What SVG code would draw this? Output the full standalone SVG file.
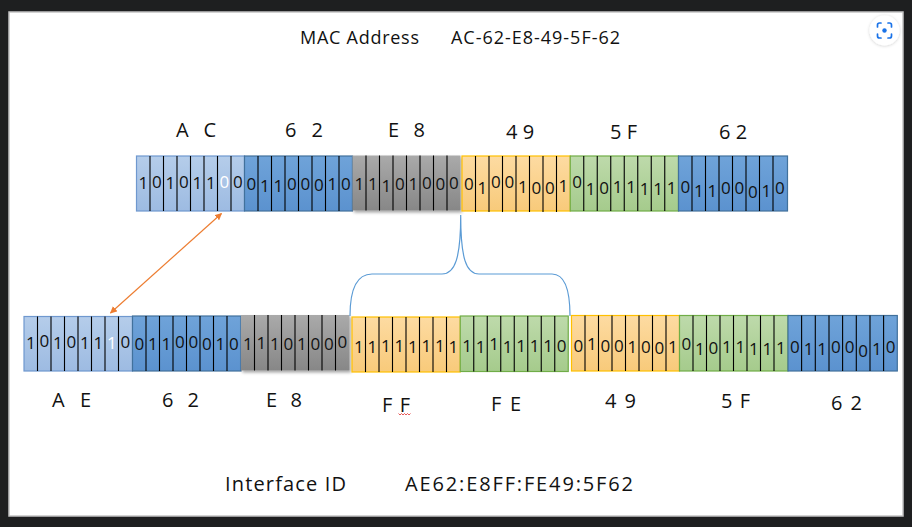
<svg xmlns="http://www.w3.org/2000/svg" width="912" height="527" viewBox="0 0 912 527">
<defs>
<linearGradient id="gLb" x1="0" y1="0" x2="0" y2="1"><stop offset="0" stop-color="#b5cdea"/><stop offset="1" stop-color="#9dbbe2"/></linearGradient>
<linearGradient id="gMb" x1="0" y1="0" x2="0" y2="1"><stop offset="0" stop-color="#6fa3d9"/><stop offset="1" stop-color="#5b92cf"/></linearGradient>
<linearGradient id="gGr" x1="0" y1="0" x2="0" y2="1"><stop offset="0" stop-color="#aaaaaa"/><stop offset="1" stop-color="#878787"/></linearGradient>
<linearGradient id="gOr" x1="0" y1="0" x2="0" y2="1"><stop offset="0" stop-color="#fddba2"/><stop offset="1" stop-color="#f8ca7a"/></linearGradient>
<linearGradient id="gGn" x1="0" y1="0" x2="0" y2="1"><stop offset="0" stop-color="#bedaab"/><stop offset="1" stop-color="#a5cb8c"/></linearGradient>
<filter id="sh" x="-10%" y="-10%" width="130%" height="140%"><feDropShadow dx="1.5" dy="2" stdDeviation="1.5" flood-color="#000" flood-opacity="0.35"/></filter>
<filter id="sh2" x="-50%" y="-50%" width="200%" height="200%"><feDropShadow dx="0" dy="0.5" stdDeviation="1.5" flood-color="#000" flood-opacity="0.2"/></filter>
<marker id="arr" viewBox="0 0 10 10" refX="9" refY="5" markerWidth="7" markerHeight="7" orient="auto-start-reverse" markerUnits="userSpaceOnUse"><path d="M0,0 L10,5 L0,10 Z" fill="#ed7d31"/></marker>
</defs>
<style>
.lb{fill:url(#gLb);stroke:#6f98cf;stroke-width:1.2}
.mb{fill:url(#gMb);stroke:#41719c;stroke-width:1.2}
.gr{fill:url(#gGr);filter:url(#sh)}
.or{fill:url(#gOr);stroke:#ffc000;stroke-width:1.2}
.gn{fill:url(#gGn);stroke:#70ad47;stroke-width:1.2}
.cell{stroke:#000;stroke-width:1.1;fill:none}
.d{font-family:"Open Sans","Noto Sans",sans-serif;font-size:17px;fill:#111;text-anchor:middle}
.w{fill:#fff}
.lab{font-family:"Open Sans","Noto Sans",sans-serif;font-size:20px;fill:#111;white-space:pre}
.ttl{font-family:"Open Sans","Noto Sans",sans-serif;font-size:18px;fill:#111;white-space:pre}
.big{font-family:"Open Sans","Noto Sans",sans-serif;font-size:20px;fill:#111;white-space:pre}
</style>
<rect x="0" y="0" width="912" height="527" fill="#1e1f20"/>
<rect x="9" y="12" width="894" height="504" fill="#ffffff" stroke="#c4c4c4" stroke-width="1.5"/>

<g id="icon">
<circle cx="884.5" cy="30.5" r="15" fill="#ffffff" filter="url(#sh2)"/>
<g fill="none" stroke="#1a73e8" stroke-width="1.7" stroke-linecap="round">
<path d="M877.5,27 V25 a2,2 0 0 1 2,-2 H881"/>
<path d="M888,23 H889.5 a2,2 0 0 1 2,2 V27"/>
<path d="M891.5,34 V36 a2,2 0 0 1 -2,2 H888"/>
<path d="M881,38 H879.5 a2,2 0 0 1 -2,-2 V34"/>
</g>
<circle cx="884.5" cy="30.5" r="2.2" fill="#1a73e8"/>
</g>

<g id="title">
<text class="ttl" x="300" y="44" textLength="119" lengthAdjust="spacing">MAC Address</text>
<text class="ttl" x="451" y="44" textLength="169" lengthAdjust="spacing">AC-62-E8-49-5F-62</text>
</g>

<g id="top-labels">
<text class="lab" x="176" y="137" textLength="40" lengthAdjust="spacing">A  C</text>
<text class="lab" x="285" y="137" textLength="38" lengthAdjust="spacing">6  2</text>
<text class="lab" x="388" y="137" textLength="37" lengthAdjust="spacing">E  8</text>
<text class="lab" x="506" y="139">4 9</text>
<text class="lab" x="610" y="139">5 F</text>
<text class="lab" x="719" y="139">6 2</text>
</g>

<g id="mac-row">
<g id="top-AC">
<rect class="lb" x="136.5" y="156" width="108" height="55"/>
<path class="cell" d="M150,156V211M163.5,156V211M177,156V211M190.5,156V211M204,156V211M217.5,156V211M231,156V211"/>
<text class="d" x="143.25" y="189">1</text><text class="d" x="156.75" y="187.5">0</text><text class="d" x="170.25" y="189">1</text><text class="d" x="183.75" y="187.5">0</text><text class="d" x="197.25" y="189">1</text><text class="d" x="210.75" y="189">1</text><text class="d w" x="224.25" y="187.5">0</text><text class="d" x="237.75" y="187.5">0</text>
</g>
<g id="top-62a">
<rect class="mb" x="244.5" y="156" width="108" height="55"/>
<path class="cell" d="M258,156V211M271.5,156V211M285,156V211M298.5,156V211M312,156V211M325.5,156V211M339,156V211"/>
<text class="d" x="251.25" y="190">0</text><text class="d" x="264.75" y="191.5">1</text><text class="d" x="278.25" y="191.5">1</text><text class="d" x="291.75" y="190">0</text><text class="d" x="305.25" y="189.5">0</text><text class="d" x="318.75" y="191">0</text><text class="d" x="332.25" y="190">1</text><text class="d" x="345.75" y="190">0</text>
</g>
<g id="top-E8">
<rect class="gr" x="352.5" y="155.5" width="108" height="55"/>
<path class="cell" d="M366,155.5V210.5M379.5,155.5V210.5M393,155.5V210.5M406.5,155.5V210.5M420,155.5V210.5M433.5,155.5V210.5M447,155.5V210.5"/>
<text class="d" x="359.25" y="190">1</text><text class="d" x="372.75" y="190">1</text><text class="d" x="386.25" y="191.5">1</text><text class="d" x="399.75" y="190">0</text><text class="d" x="413.25" y="190">1</text><text class="d" x="426.75" y="188.5">0</text><text class="d" x="440.25" y="190">0</text><text class="d" x="453.75" y="188.5">0</text>
</g>
<g id="top-49">
<rect class="or" x="462" y="156" width="108.25" height="55"/>
<path class="cell" d="M475.5,156V212M489,156V212M502.5,156V212M516,156V212M529.5,156V212M543,156V212M556.5,156V212"/>
<text class="d" x="468.75" y="190">0</text><text class="d" x="482.25" y="194">1</text><text class="d" x="495.75" y="188">0</text><text class="d" x="509.25" y="188">0</text><text class="d" x="522.75" y="192.5">1</text><text class="d" x="536.25" y="194">0</text><text class="d" x="549.75" y="194">0</text><text class="d" x="563.25" y="191.5">1</text>
</g>
<g id="top-5F">
<rect class="gn" x="570.25" y="156" width="108.25" height="55"/>
<path class="cell" d="M583.75,156V211M597.25,156V211M610.75,156V211M624.25,156V211M637.75,156V211M651.25,156V211M664.75,156V211"/>
<text class="d" x="577" y="188">0</text><text class="d" x="590.5" y="195">1</text><text class="d" x="604" y="194">0</text><text class="d" x="617.5" y="193">1</text><text class="d" x="631" y="193">1</text><text class="d" x="644.5" y="195">1</text><text class="d" x="658" y="195">1</text><text class="d" x="671.5" y="194">1</text>
</g>
<g id="top-62b">
<rect class="mb" x="678.5" y="156" width="109" height="55"/>
<path class="cell" d="M692,156V211M705.5,156V211M719,156V211M732.5,156V211M746,156V211M759.5,156V211M773,156V211"/>
<text class="d" x="685.25" y="193">0</text><text class="d" x="698.75" y="196.5">1</text><text class="d" x="712.25" y="196.5">1</text><text class="d" x="725.75" y="194">0</text><text class="d" x="739.25" y="194">0</text><text class="d" x="752.75" y="197.5">0</text><text class="d" x="766.25" y="196.5">1</text><text class="d" x="779.75" y="194">0</text>
</g>
</g>

<g id="eui-row">
<g id="bot-AE">
<rect class="lb" x="24" y="316.5" width="108.5" height="54.5"/>
<path class="cell" d="M37.5,316.5V371M51,316.5V371M64.5,316.5V371M78,316.5V371M91.5,316.5V371M105,316.5V371M118.5,316.5V371"/>
<text class="d" x="30.75" y="348.5">1</text><text class="d" x="44.25" y="346.5">0</text><text class="d" x="57.75" y="348.5">1</text><text class="d" x="71.25" y="348">0</text><text class="d" x="84.75" y="349">1</text><text class="d" x="98.25" y="349">1</text><text class="d w" x="111.75" y="349">1</text><text class="d" x="125.25" y="348">0</text>
</g>
<g id="bot-62a">
<rect class="mb" x="132.5" y="316" width="108.5" height="55"/>
<path class="cell" d="M146,316V371M159.5,316V371M173,316V371M186.5,316V371M200,316V371M213.5,316V371M227,316V371"/>
<text class="d" x="139.25" y="350">0</text><text class="d" x="152.75" y="350">1</text><text class="d" x="166.25" y="350">1</text><text class="d" x="179.75" y="348">0</text><text class="d" x="193.25" y="348">0</text><text class="d" x="206.75" y="350">0</text><text class="d" x="220.25" y="350">1</text><text class="d" x="233.75" y="350">0</text>
</g>
<g id="bot-E8">
<rect class="gr" x="241" y="315" width="108.5" height="55.5"/>
<path class="cell" d="M254.5,315V370.5M268,315V370.5M281.5,315V370.5M295,315V370.5M308.5,315V370.5M322,315V370.5M335.5,315V370.5"/>
<text class="d" x="247.75" y="350">1</text><text class="d" x="261.25" y="349">1</text><text class="d" x="274.75" y="350">1</text><text class="d" x="288.25" y="350">0</text><text class="d" x="301.75" y="350">1</text><text class="d" x="315.25" y="350">0</text><text class="d" x="328.75" y="350">0</text><text class="d" x="342.25" y="348">0</text>
</g>
<g id="bot-FF">
<rect class="or" x="352" y="317" width="108.25" height="55"/>
<path class="cell" d="M365.5,317V372M379,317V372M392.5,317V372M406,317V372M419.5,317V372M433,317V372M446.5,317V372"/>
<text class="d" x="358.75" y="353">1</text><text class="d" x="372.25" y="353">1</text><text class="d" x="385.75" y="352">1</text><text class="d" x="399.25" y="352">1</text><text class="d" x="412.75" y="353">1</text><text class="d" x="426.25" y="352">1</text><text class="d" x="439.75" y="352">1</text><text class="d" x="453.25" y="353">1</text>
</g>
<g id="bot-FE">
<rect class="gn" x="460.25" y="316" width="108" height="55.5"/>
<path class="cell" d="M473.75,316V371.5M487.25,316V371.5M500.75,316V371.5M514.25,316V371.5M527.75,316V371.5M541.25,316V371.5M554.75,316V371.5"/>
<text class="d" x="467" y="351.5">1</text><text class="d" x="480.5" y="353">1</text><text class="d" x="494" y="350">1</text><text class="d" x="507.5" y="353">1</text><text class="d" x="521" y="352">1</text><text class="d" x="534.5" y="352">1</text><text class="d" x="548" y="352">1</text><text class="d" x="561.5" y="352">0</text>
</g>
<g id="bot-49">
<rect class="or" x="571.5" y="315.5" width="108" height="55.5"/>
<path class="cell" d="M585,315.5V371M598.5,315.5V371M612,315.5V371M625.5,315.5V371M639,315.5V371M652.5,315.5V371M666,315.5V371"/>
<text class="d" x="578.25" y="351.5">0</text><text class="d" x="591.75" y="350">1</text><text class="d" x="605.25" y="351.5">0</text><text class="d" x="618.75" y="351.5">0</text><text class="d" x="632.25" y="353">1</text><text class="d" x="645.75" y="353">0</text><text class="d" x="659.25" y="354">0</text><text class="d" x="672.75" y="353">1</text>
</g>
<g id="bot-5F">
<rect class="gn" x="679.5" y="315.5" width="108.5" height="55.5"/>
<path class="cell" d="M693,315.5V371M706.5,315.5V371M720,315.5V371M733.5,315.5V371M747,315.5V371M760.5,315.5V371M774,315.5V371"/>
<text class="d" x="686.25" y="350">0</text><text class="d" x="699.75" y="355">1</text><text class="d" x="713.25" y="354">0</text><text class="d" x="726.75" y="353">1</text><text class="d" x="740.25" y="353">1</text><text class="d" x="753.75" y="355">1</text><text class="d" x="767.25" y="355">1</text><text class="d" x="780.75" y="354">1</text>
</g>
<g id="bot-62b">
<rect class="mb" x="788" y="315.5" width="109.3" height="55.5"/>
<path class="cell" d="M801.6,315.5V371M815.3,315.5V371M829,315.5V371M842.6,315.5V371M856.3,315.5V371M870,315.5V371M883.6,315.5V371"/>
<text class="d" x="794.8" y="353">0</text><text class="d" x="808.5" y="355">1</text><text class="d" x="822.1" y="355">1</text><text class="d" x="835.8" y="353">0</text><text class="d" x="849.5" y="353">0</text><text class="d" x="863.1" y="356.5">0</text><text class="d" x="876.8" y="355">1</text><text class="d" x="890.5" y="353">0</text>
</g>
</g>

<g id="connectors">
<line x1="221.5" y1="213.5" x2="110.5" y2="313" stroke="#ed7d31" stroke-width="1.2" marker-start="url(#arr)" marker-end="url(#arr)"/>
<path d="M350,316 C350,292 356,274 372,274 L442,274 C455,274 460.7,258 460.7,215 C460.7,258 466,274 479,274 L552,274 C566,274 570,292 570,316" fill="none" stroke="#5b9bd5" stroke-width="1.2"/>
</g>

<g id="bottom-labels">
<text class="lab" x="52" y="407" textLength="39" lengthAdjust="spacing">A  E</text>
<text class="lab" x="162" y="407" textLength="37" lengthAdjust="spacing">6  2</text>
<text class="lab" x="266" y="407" textLength="36" lengthAdjust="spacing">E  8</text>
<text class="lab" x="382" y="411.5" textLength="28" lengthAdjust="spacing">F F</text>
<text class="lab" x="491" y="411" textLength="30" lengthAdjust="spacing">F E</text>
<text class="lab" x="605" y="408" textLength="31" lengthAdjust="spacing">4 9</text>
<text class="lab" x="721" y="408" textLength="29" lengthAdjust="spacing">5 F</text>
<text class="lab" x="831" y="410" textLength="31" lengthAdjust="spacing">6 2</text>
<path d="M398.5,413.5 l1.5,1.5 l1.5,-1.5 l1.5,1.5 l1.5,-1.5 l1.5,1.5 l1.5,-1.5 l1.5,1.5 l1.5,-1.5" fill="none" stroke="#e03030" stroke-width="0.8"/>
</g>

<g id="footer">
<text class="big" x="225" y="491" textLength="121" lengthAdjust="spacing">Interface ID</text>
<text class="big" x="405" y="491" textLength="228" lengthAdjust="spacing">AE62:E8FF:FE49:5F62</text>
</g>
</svg>
